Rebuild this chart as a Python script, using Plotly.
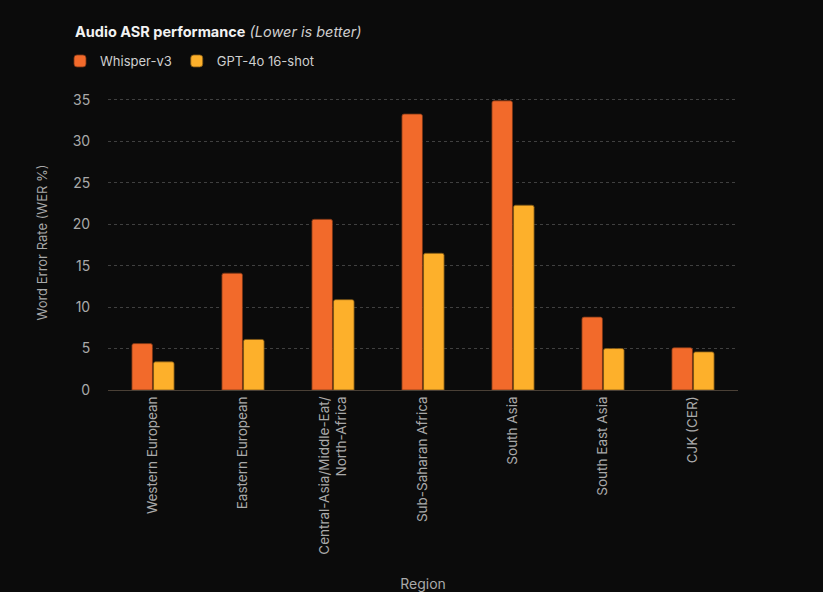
import plotly.graph_objects as go

regions = ["Western European", "Eastern European", "Central-Asia/Middle-Eat/<br>North-Africa",
           "Sub-Saharan Africa", "South Asia", "South East Asia", "CJK (CER)"]
whisper_v3 = [5.6, 14.1, 20.6, 33.3, 34.9, 8.8, 5.1]
gpt4o_16shot = [3.4, 6.1, 10.9, 16.5, 22.3, 5.0, 4.6]

BG = "#0b0b0b"
fig = go.Figure()
fig.add_trace(go.Bar(x=regions, y=whisper_v3, name="Whisper-v3",
                     marker=dict(color="#F26A2B", line=dict(color="#7a3515", width=0.8))))
fig.add_trace(go.Bar(x=regions, y=gpt4o_16shot, name="GPT-4o 16-shot",
                     marker=dict(color="#FDB02B", line=dict(color="#7e5715", width=0.8))))

fig.update_layout(
    width=823, height=592,
    paper_bgcolor=BG, plot_bgcolor=BG,
    font=dict(family="Inter, Roboto, sans-serif", color="#a9a9a9", size=13),
    margin=dict(l=108, r=85, t=95, b=202, autoexpand=False),
    barmode="group", bargap=0.52, bargroupgap=0.05, barcornerradius=2,
    title=dict(text="<b>Audio ASR performance</b> <i><span style='color:#cfcfcf'>(Lower is better)</span></i>",
               font=dict(size=14.5, color="#f2f2f2"),
               xref="container", yref="container", x=75/823, y=1-32/592,
               xanchor="left", yanchor="middle"),
    legend=dict(orientation="h", xref="container", yref="container",
                x=60/823, y=1-61/592, xanchor="left", yanchor="middle",
                font=dict(size=13, color="#cfcfcf"), itemwidth=30,
                bgcolor="rgba(0,0,0,0)", traceorder="normal"),
    showlegend=True,
)
fig.update_yaxes(range=[0, 35.6], tickvals=[0, 5, 10, 15, 20, 25, 30, 35],
                 showgrid=True, gridcolor="#404040", griddash="dot", gridwidth=1,
                 zeroline=False, showline=False, ticks="outside", ticklen=14, tickcolor=BG,
                 automargin=False,
                 title=dict(text="Word Error Rate (WER %)", font=dict(size=13, color="#a9a9a9"), standoff=22),
                 tickfont=dict(size=14, color="#a9a9a9"))
fig.update_xaxes(tickangle=-90, showline=True, linecolor="#4a4036", linewidth=1,
                 showgrid=False, ticks="", automargin=False,
                 title=dict(text="Region", font=dict(size=14, color="#a9a9a9"), standoff=29),
                 tickfont=dict(size=13.5, color="#a9a9a9"))

fig.write_html("out.html", config={"displayModeBar": False},
               post_script="document.body.style.margin='0';document.body.style.background='#0b0b0b';")
